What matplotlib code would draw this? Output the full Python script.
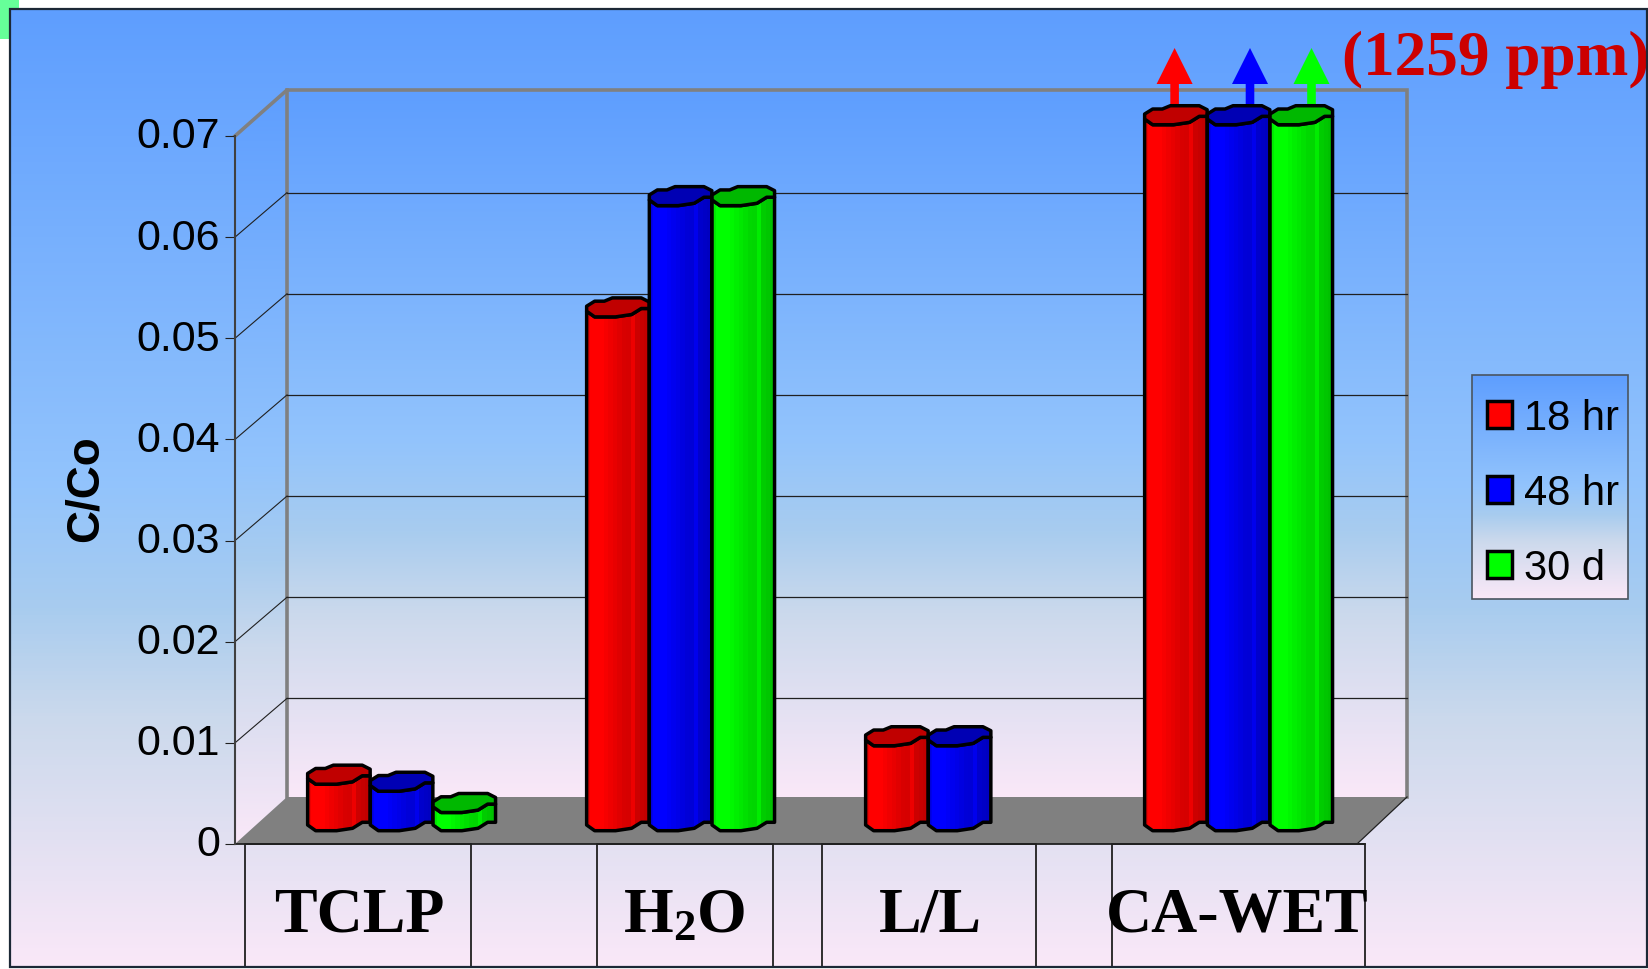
import numpy as np
import matplotlib
matplotlib.use("Agg")
import matplotlib.pyplot as plt
from matplotlib.colors import LinearSegmentedColormap, to_rgb
from matplotlib.patches import Patch, Polygon, Rectangle
from matplotlib.transforms import Affine2D

plt.rcParams["font.family"] = "Liberation Sans"
plt.rcParams["mathtext.fontset"] = "custom"
plt.rcParams["mathtext.bf"] = "Liberation Serif:bold"
plt.rcParams["mathtext.rm"] = "Liberation Serif:bold"

W, H = 1649, 970

# C/Co per leach test; the CA-WET bars run off the scale (1259 ppm)
categories = ["TCLP", "H2O", "L/L", "CA-WET"]
series_names = ["18 hr", "48 hr", "30 d"]
vals_18hr = [0.0046, 0.0508, 0.0084, 0.0698]
vals_48hr = [0.0039, 0.0618, 0.0084, 0.0698]
vals_30d = [0.0018, 0.0618, None, 0.0698]
yticks = [0, 0.01, 0.02, 0.03, 0.04, 0.05, 0.06, 0.07]
ytick_labels = ["0", "0.01", "0.02", "0.03", "0.04", "0.05", "0.06", "0.07"]

side_colors = ["#ff0000", "#0000ff", "#00ff00"]
top_colors = ["#c00000", "#0000b4", "#00b800"]
arrow_x = [1174.6, 1250, 1311.5]

bg_stops = [(0, "#5e9eff"), (0.5, "#93c4fc"), (0.625, "#a8ccef"), (0.74, "#cbd9ec"), (1, "#fae8f8")]
bg_cmap = LinearSegmentedColormap.from_list("bg", bg_stops)
ramp = np.linspace(0, 1, 256)[:, None]

# plot area in pixels
AX_LEFT, AX_BASE, AX_TOP = 235, 845, 137
AX_WIDTH = 1116
PX_X = 4 / AX_WIDTH
PX_Y = 0.07 / (AX_BASE - AX_TOP)
WALL_DX, WALL_DY = 52, 46
GRID_DY = 44.5
FLOOR_RIGHT = 1357
BACK_RIGHT = 1407

fig = plt.figure(figsize=(W / 100, H / 100), dpi=100, facecolor="white")

# pixel canvas for the slide background, walls, table and notes
canvas = fig.add_axes([0, 0, 1, 1], zorder=0)
canvas.set_axis_off()


def gradient(x0, x1, y0, y1, clip=None, z=1):
    im = canvas.imshow(ramp, cmap=bg_cmap, vmin=0, vmax=1, aspect="auto",
                       extent=(x0, x1, y1, y0), zorder=z)
    if clip is not None:
        p = Polygon(clip, closed=True, fc="none", ec="none", zorder=z)
        canvas.add_patch(p)
        im.set_clip_path(p)


canvas.add_patch(Rectangle((0, 0), 19, 40, fc="#66ff99", ec="none", zorder=0))
gradient(10, 1647, 10, 968, z=1)
canvas.add_patch(Rectangle((10, 10), 1637, 958, fc="none", ec="#1c2836", lw=1.6, zorder=9))

# left wall, back wall, floor
back_left = AX_LEFT + WALL_DX
back_top = AX_TOP - WALL_DY
back_base = AX_BASE - WALL_DY - 1
gradient(AX_LEFT, back_left, back_top, AX_BASE,
         clip=[(AX_LEFT, AX_TOP), (back_left, back_top), (back_left, back_base), (AX_LEFT, AX_BASE)], z=2)
gradient(back_left, BACK_RIGHT, back_top, back_base, z=2)
canvas.add_patch(Polygon([(AX_LEFT, AX_BASE), (back_left, back_base), (BACK_RIGHT, back_base), (FLOOR_RIGHT, AX_BASE)],
                         closed=True, fc="#808080", ec="none", zorder=3))
canvas.plot([AX_LEFT, back_left, BACK_RIGHT, BACK_RIGHT], [AX_TOP, back_top, back_top, back_base],
            color="#808080", lw=2.6, solid_joinstyle="miter", zorder=4)
canvas.plot([back_left, back_left], [back_top, back_base], color="#808080", lw=2.6, zorder=4)
canvas.plot([FLOOR_RIGHT, BACK_RIGHT], [AX_BASE, back_base], color="#202020", lw=0.9, zorder=4)
canvas.plot([AX_LEFT, 1365], [AX_BASE, AX_BASE], color="#202020", lw=1.3, zorder=5)

# table of test names below the floor
cell_edges = [(245, 471), (597, 773), (822, 1036), (1112, 1365)]
cell_labels = ["TCLP", r"$\mathbf{H_2O}$", "L/L", "CA-WET"]
cell_text_x = [359, 684, 930, 1237]
for (c0, c1), lab, tx in zip(cell_edges, cell_labels, cell_text_x):
    canvas.plot([c0, c0, c1, c1], [968, AX_BASE, AX_BASE, 968], color="#202020", lw=1.3, zorder=5)
    canvas.text(tx, 910, lab, family="Liberation Serif", weight="bold", fontsize=46,
                ha="center", va="center_baseline", zorder=8)

# off-scale arrows and their note
for ax_x, col in zip(arrow_x, side_colors):
    canvas.add_patch(Polygon([(ax_x - 4.3, 105), (ax_x - 4.3, 85), (ax_x - 18, 85), (ax_x, 49),
                              (ax_x + 18, 85), (ax_x + 4.3, 85), (ax_x + 4.3, 105)],
                             closed=True, fc=col, ec="none", zorder=6))
canvas.text(1342, 75, "(1259 ppm)", family="Liberation Serif", weight="bold", fontsize=45.5,
            color="#cc0000", ha="left", va="baseline", zorder=8)

# legend panel
gradient(1472, 1628, 376, 600, z=2)
canvas.add_patch(Rectangle((1472, 376), 156, 224, fc="none", ec="#4a5560", lw=1.2, zorder=4))

canvas.set_xlim(0, W)
canvas.set_ylim(H, 0)

# value axes: x runs over the four tests, y is C/Co
ax = fig.add_axes([AX_LEFT / W, 1 - AX_BASE / H, AX_WIDTH / W, (AX_BASE - AX_TOP) / H], zorder=2)
ax.patch.set_alpha(0)
for side in ["top", "right", "bottom"]:
    ax.spines[side].set_visible(False)
ax.spines["left"].set_color("#404040")
ax.spines["left"].set_linewidth(1.5)
ax.set_xticks([])
ax.set_yticks(yticks)
ax.set_yticklabels(ytick_labels)
ax.tick_params(axis="y", length=7.2, width=0.8, color="#202020", pad=3.4, labelsize=31)
for lab in ax.get_yticklabels():
    lab.set_transform(lab.get_transform() + Affine2D().translate(0, 4))
ax.set_ylabel("C/Co", fontsize=33, fontweight="bold", va="center")
ax.yaxis.set_label_coords((86 - AX_LEFT) / AX_WIDTH, (AX_BASE - 489) / (AX_BASE - AX_TOP))

# gridlines on the back wall and the slanted run across the left wall
wall_x = WALL_DX * PX_X
wall_y = GRID_DY * PX_Y
wall_right = (BACK_RIGHT - AX_LEFT) * PX_X
for t in yticks[1:-1]:
    ax.plot([wall_x, wall_right], [t + wall_y, t + wall_y], color="#202020", lw=0.9,
            clip_on=False, zorder=1)
    ax.plot([0, wall_x], [t, t + wall_y], color="#202020", lw=0.8, clip_on=False, zorder=1)

# faceted outline of a bar top: fraction of bar width, pixels from the centre
top_u = [-0.497, -0.369, -0.215, -0.087, 0.374, 0.5, 0.5, 0.374, 0.22, -0.036, -0.369, -0.497]
top_v = [1, 6, 6, 9.3, 9.3, 5.3, -1.3, -1.3, -7.3, -9.7, -9.7, -4]
front_u = [-0.497, -0.369, -0.036, 0.22, 0.374, 0.5]
front_v = [-4, -9.7, -9.7, -7.3, -1.3, -1.3]
shade = [0.92, 1, 1, 1, 0.97, 0.94, 0.91, 0.88, 0.85, 0.84, 0.93, 0.8, 0.78, 0.76]

BAR_W = 62.7 * PX_X
depth_x = 27 * PX_X
depth_y = 23 * PX_Y


def draw_bar(x, value, side, top, z):
    front = [(x + u * BAR_W, value + depth_y + v * PX_Y) for u, v in zip(front_u, front_v)]
    foot = [(x + u * BAR_W, depth_y + v * PX_Y) for u, v in zip(front_u, front_v)]
    body = front + foot[::-1]
    outline = Polygon(body, closed=True, fc="none", ec="black", lw=2.5, joinstyle="round",
                      clip_on=False, zorder=z + 0.2)
    ax.add_patch(outline)
    strip = np.array([[np.array(to_rgb(side)) * s for s in shade]])
    im = ax.imshow(strip, extent=(x - BAR_W / 2, x + BAR_W / 2, 0, value + depth_y + 20 * PX_Y),
                   aspect="auto", interpolation="nearest", zorder=z)
    im.set_clip_box(fig.bbox)
    im.set_clip_path(outline)
    cap = [(x + u * BAR_W, value + depth_y + v * PX_Y) for u, v in zip(top_u, top_v)]
    ax.add_patch(Polygon(cap, closed=True, fc=top, ec="black", lw=2.5, joinstyle="round",
                         clip_on=False, zorder=z + 0.3))


series = [vals_18hr, vals_48hr, vals_30d]
z = 2
for j, vals in enumerate(series):
    for k, v in enumerate(vals):
        if v is None:
            continue
        draw_bar(k + 0.5 + (j - 1) * BAR_W + depth_x, v, side_colors[j], top_colors[j], z)
        z += 1

ax.set_xlim(0, 4)
ax.set_ylim(0, 0.07)

handles = [Patch(facecolor=c, edgecolor="black", linewidth=2.5) for c in side_colors]
fig.legend(handles, series_names, loc="upper left", bbox_to_anchor=(1487 / W, 1 - 399 / H),
           frameon=False, borderpad=0, borderaxespad=0, fontsize=30,
           handlelength=0.6, handleheight=0.6, handletextpad=0.3, labelspacing=0.84)

fig.savefig("out.png", dpi=100)
